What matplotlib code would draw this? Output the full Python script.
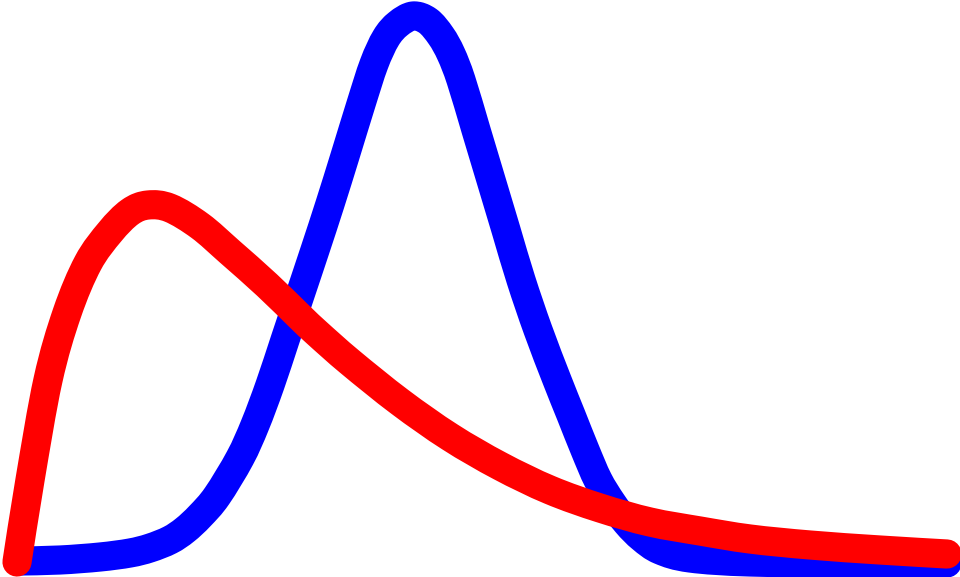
import matplotlib
matplotlib.use("Agg")
from matplotlib import pyplot as plt
from matplotlib.path import Path
from matplotlib.patches import PathPatch

# curves (x to the right, y downward from top)
blue_x = [20, 60, 100, 130, 150, 170, 185, 200, 217, 240, 255, 270, 285, 300, 315, 330,
          345, 361, 374, 386, 398, 413, 428, 441, 451, 461, 476, 491, 506, 521, 538, 557,
          571, 585, 598, 612, 627, 642, 660, 690, 750, 850, 947]
blue_y = [561, 560, 557, 553, 548, 540, 530, 516, 496, 458, 425, 385, 340, 295, 250, 204,
          156, 104, 64, 38, 24, 16, 21, 36, 54, 80, 130, 180, 230, 280, 330, 380,
          415, 450, 480, 503, 523, 538, 550, 558, 562, 563, 563]

red_x = [17, 30, 48, 67, 88, 110, 130, 148, 170, 200, 230, 267, 300, 317, 350, 400, 450,
         500, 550, 600, 650, 700, 750, 810, 880, 947]
red_y = [562, 480, 380, 313, 263, 232, 212, 205, 208, 226, 252, 285, 317, 333, 362, 402, 437,
         466, 490, 508, 522, 531, 539, 545, 550, 554]


def smooth_line(xs, ys):
    # catmull-rom through the read points, drawn as cubic bezier segments
    pts = list(zip(xs, ys))
    n = len(pts)
    verts = [pts[0]]
    codes = [Path.MOVETO]
    for i in range(n - 1):
        p0 = pts[i - 1] if i > 0 else pts[i]
        p1 = pts[i]
        p2 = pts[i + 1]
        p3 = pts[i + 2] if i + 2 < n else pts[i + 1]
        c1 = (p1[0] + (p2[0] - p0[0]) / 6, p1[1] + (p2[1] - p0[1]) / 6)
        c2 = (p2[0] - (p3[0] - p1[0]) / 6, p2[1] - (p3[1] - p1[1]) / 6)
        verts += [c1, c2, p2]
        codes += [Path.CURVE4] * 3
    return Path(verts, codes)


fig = plt.figure(figsize=(9.6, 5.77), dpi=100)
ax = fig.add_axes([0, 0, 1, 1])
for xs, ys, col in [(blue_x, blue_y, "#0000ff"), (red_x, red_y, "#ff0000")]:
    patch = PathPatch(smooth_line(xs, ys), facecolor="none", edgecolor=col, lw=21,
                      capstyle="round", joinstyle="round")
    ax.add_patch(patch)
ax.set_xlim(0, 960)
ax.set_ylim(577, 0)
ax.axis("off")

fig.savefig("out.png", dpi=100, facecolor="white")
